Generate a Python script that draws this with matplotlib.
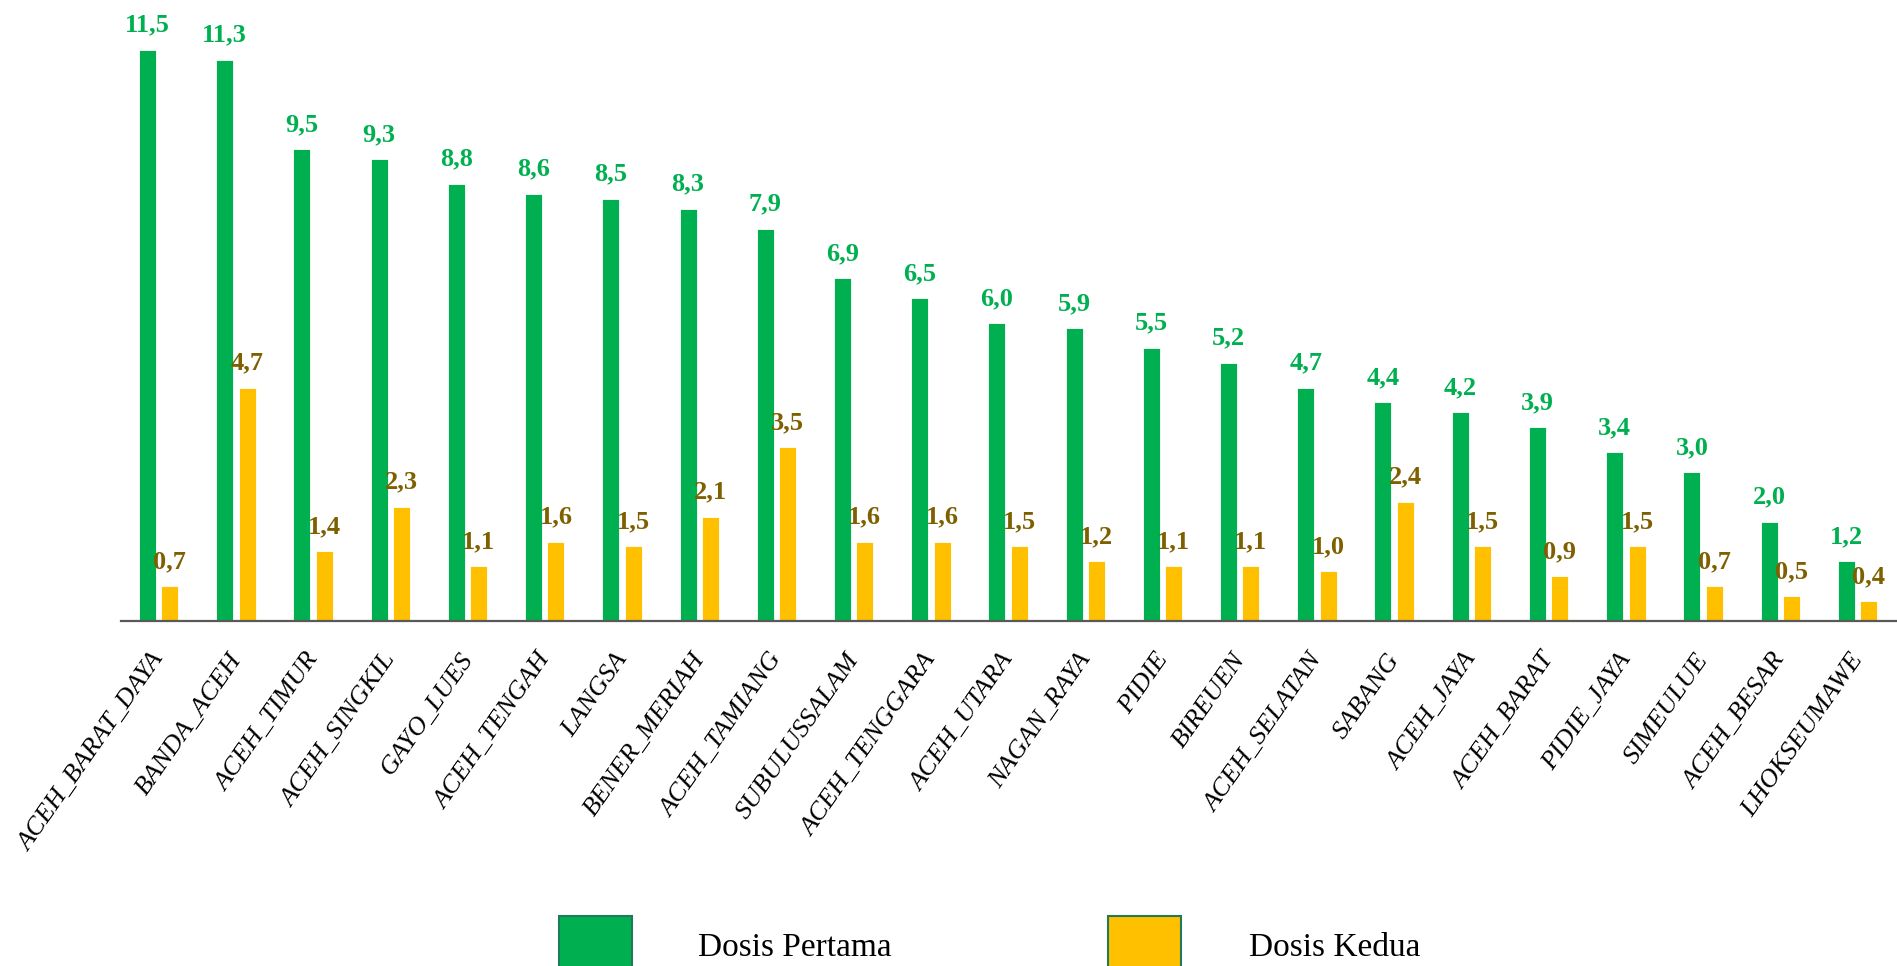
import matplotlib
matplotlib.use("Agg")
import matplotlib.pyplot as plt
import numpy as np
from matplotlib.patches import Rectangle

categories = ["ACEH_BARAT_DAYA", "BANDA_ACEH", "ACEH_TIMUR", "ACEH_SINGKIL", "GAYO_LUES",
              "ACEH_TENGAH", "LANGSA", "BENER_MERIAH", "ACEH_TAMIANG", "SUBULUSSALAM",
              "ACEH_TENGGARA", "ACEH_UTARA", "NAGAN_RAYA", "PIDIE", "BIREUEN",
              "ACEH_SELATAN", "SABANG", "ACEH_JAYA", "ACEH_BARAT", "PIDIE_JAYA",
              "SIMEULUE", "ACEH_BESAR", "LHOKSEUMAWE"]
dosis_pertama = [11.5, 11.3, 9.5, 9.3, 8.8, 8.6, 8.5, 8.3, 7.9, 6.9, 6.5, 6.0, 5.9, 5.5,
                 5.2, 4.7, 4.4, 4.2, 3.9, 3.4, 3.0, 2.0, 1.2]
dosis_kedua = [0.7, 4.7, 1.4, 2.3, 1.1, 1.6, 1.5, 2.1, 3.5, 1.6, 1.6, 1.5, 1.2, 1.1,
               1.1, 1.0, 2.4, 1.5, 0.9, 1.5, 0.7, 0.5, 0.4]
series_names = ["Dosis Pertama", "Dosis Kedua"]

GREEN = "#00B050"
YELLOW = "#FFC000"
BROWN = "#7F6000"
FONT = "Liberation Serif"

W, H = 1897, 966
fig = plt.figure(figsize=(W / 100, H / 100), dpi=100)
ax = fig.add_axes([121 / W, 1 - 621 / H, 1 - 121 / W, 621 / H])

x = np.arange(len(categories))
bw = 0.22
off = 0.145
b1 = ax.bar(x - off - 0.012, dosis_pertama, width=bw, color=GREEN, edgecolor="white", linewidth=0.6)
b2 = ax.bar(x + off - 0.012, dosis_kedua, width=bw, color=YELLOW, edgecolor="white", linewidth=0.6)

def fmt(v):
    return f"{v:.1f}".replace(".", ",")

for rect, v in zip(b1, dosis_pertama):
    ax.annotate(fmt(v), (rect.get_x() + rect.get_width() / 2, rect.get_height()),
                xytext=(0, 13), textcoords="offset points", ha="center", va="baseline",
                fontsize=19, fontweight="bold", color=GREEN, family=FONT)
for rect, v in zip(b2, dosis_kedua):
    ax.annotate(fmt(v), (rect.get_x() + rect.get_width() / 2, rect.get_height()),
                xytext=(0, 13), textcoords="offset points", ha="center", va="baseline",
                fontsize=19, fontweight="bold", color=BROWN, family=FONT)

ax.set_xlim(-0.5, len(categories) - 0.5)
ax.set_ylim(0, 12.5)
ax.set_xticks(x)
ax.set_xticklabels(categories, rotation=55, ha="right", va="center", rotation_mode="anchor",
                   fontsize=19, fontstyle="italic", family=FONT, color="#000000")
ax.tick_params(axis="x", length=0, pad=25)
ax.set_yticks([])
for s in ["top", "right", "left"]:
    ax.spines[s].set_visible(False)
ax.spines["bottom"].set_color("#595959")
ax.spines["bottom"].set_linewidth(1.6)

# legend
legend_items = [(559, GREEN, series_names[0], 698), (1108, YELLOW, series_names[1], 1249)]
for px, col, name, tx in legend_items:
    fig.add_artist(Rectangle((px / W, (H - 980) / H), 73 / W, 64 / H, transform=fig.transFigure,
                             facecolor=col, edgecolor="#1F7A5A", linewidth=1.5, clip_on=False))
    fig.text(tx / W, 1 - 956 / H, name, fontsize=24, family=FONT, color="#000000",
             ha="left", va="baseline")

fig.savefig("out.png", dpi=100)
